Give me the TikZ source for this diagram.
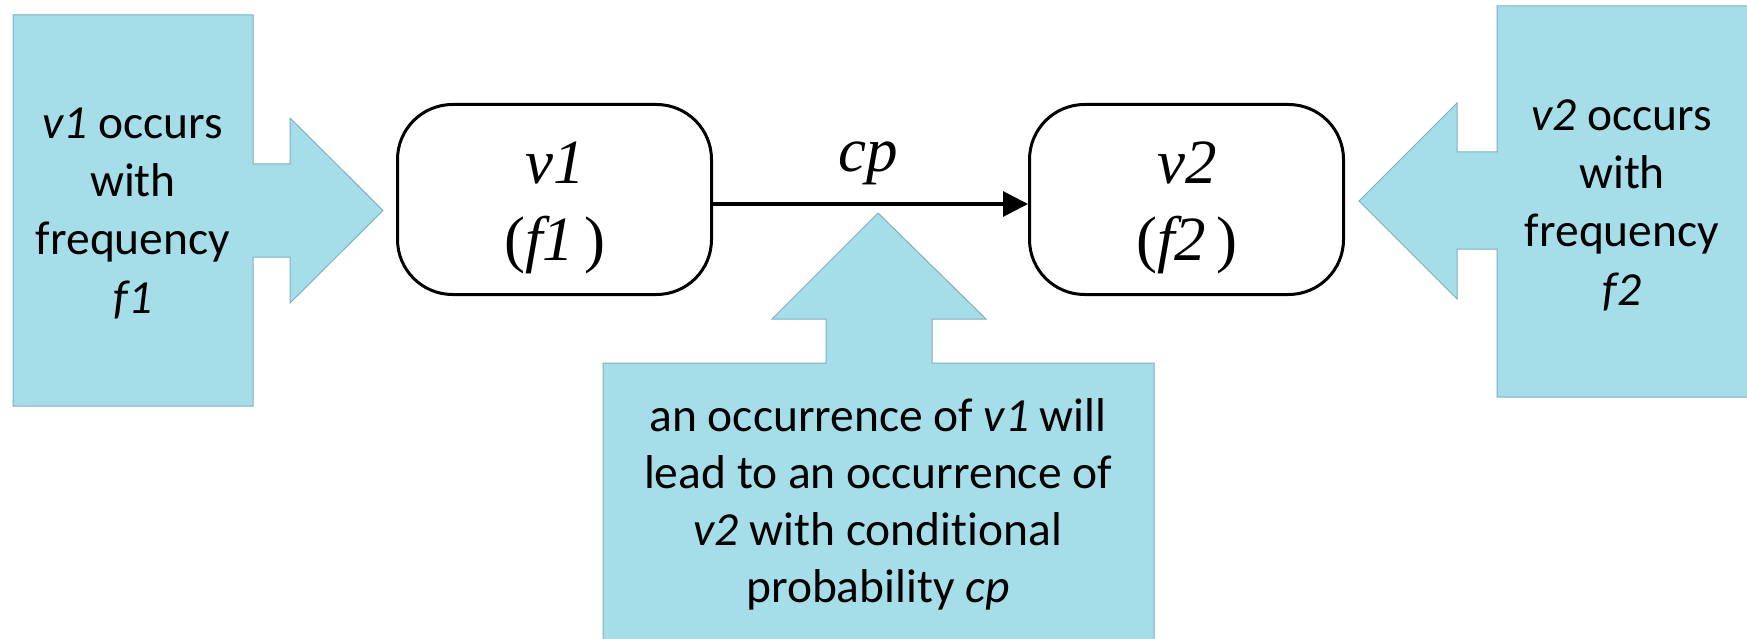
\documentclass[tikz,border=0pt]{standalone}
\usepackage{fontspec}
\setmainfont{Carlito}[Ligatures=NoCommon]
\newfontfamily\tnr{Liberation Serif}
\usetikzlibrary{arrows.meta}
\definecolor{callfill}{RGB}{165,222,232}
\definecolor{calldraw}{RGB}{125,175,190}
\begin{document}
\begin{tikzpicture}[x=1pt,y=-1pt,
  callout/.style={fill=callfill, draw=calldraw, line width=1pt},
  calltext/.style={align=center, anchor=base, inner sep=0pt, font=\fontsize{47.5}{58.3}\selectfont},
  midtext/.style={align=center, anchor=base, inner sep=0pt, font=\fontsize{47.5}{56.7}\selectfont},
  vbox/.style={draw=black, line width=3pt, rounded corners=55pt, minimum width=314pt, minimum height=190pt, inner sep=0pt, fill=white},
  vtext/.style={anchor=base, inner sep=0pt, font=\tnr\fontsize{63}{70}\selectfont},
  link/.style={line width=3pt, -{Triangle[length=25pt,width=25pt]}}
]
\useasboundingbox (0,0) rectangle (1747,639);
% callouts
\draw[callout] (13,15) -- (253,15) -- (253,164) -- (290,164) -- (290,118) -- (383,210.5)
  -- (290,303) -- (290,257) -- (253,257) -- (253,406) -- (13,406) -- cycle;
\draw[callout] (1752,6) -- (1497,6) -- (1497,152) -- (1457,152) -- (1457,103) -- (1359,201)
  -- (1457,299) -- (1457,249) -- (1497,249) -- (1497,397) -- (1752,397);
\draw[callout] (603,645) -- (603,363) -- (826,363) -- (826,319) -- (772,319) -- (878,213)
  -- (986,319) -- (932,319) -- (932,363) -- (1154,363) -- (1154,645);
\node[calltext] (t1) at (133,313) {\textit{v1} occurs\\with\\frequency\\\textit{f1}};
\node[calltext] (t2) at (1622,305) {\textit{v2} occurs\\with\\frequency\\\textit{f2}};
\node[midtext] (t3) at (878,602) {an occurrence of \textit{v1} will\\lead to an occurrence of\\\textit{v2} with conditional\\probability \textit{cp}};
% nodes
\node[vbox] (v1) at (554.5,199.5) {};
\node[vbox] (v2) at (1186.5,199.5) {};
\node[vtext] (v1a) at (555,184) {\textit{v1}};
\node[vtext] (v1b) at (555,260) {(\textit{f1}\,)};
\node[vtext] (v2a) at (1187,184) {\textit{v2}};
\node[vtext] (v2b) at (1187,260) {(\textit{f2}\,)};
\draw[link] ([yshift=-4.5pt]v1.east) -- ([yshift=-4.5pt]v2.west);
\node[vtext] (cp) at (868,172) {\textit{cp}};
\end{tikzpicture}
\end{document}
